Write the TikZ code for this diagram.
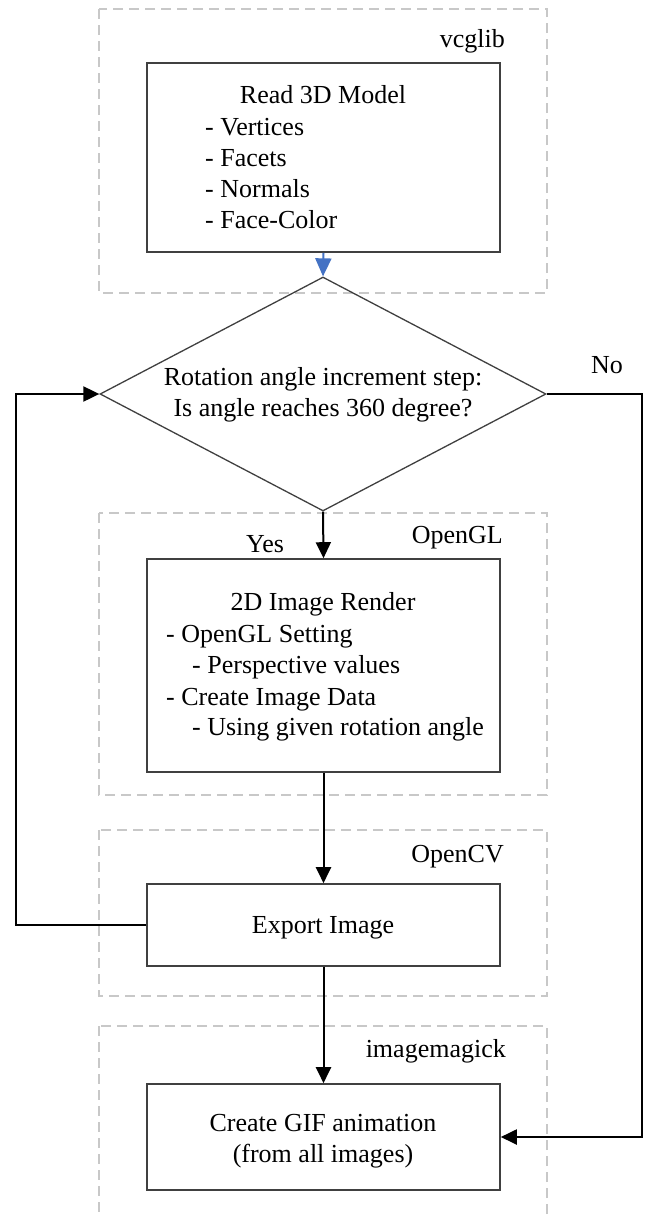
\documentclass[tikz,border=0pt]{standalone}
\usepackage{fontspec}
\setmainfont{Liberation Serif}
\usetikzlibrary{arrows.meta,shapes.geometric}
\definecolor{grpgray}{RGB}{200,200,200}
\definecolor{boxgray}{RGB}{64,64,64}
\definecolor{arrblue}{RGB}{68,114,196}
\begin{document}
\begin{tikzpicture}[x=1pt,y=-1pt,
  grp/.style={draw=grpgray, line width=1.3pt, dash pattern=on 10pt off 6pt},
  proc/.style={draw=boxgray, line width=1.6pt, fill=white, minimum width=353pt, inner sep=0pt},
  dec/.style={draw=boxgray, line width=1.3pt, diamond, minimum width=446pt, minimum height=234pt, inner sep=0pt},
  flow/.style={draw=black, line width=2pt, -{Triangle[length=16pt,width=15pt]}},
  bflow/.style={draw=arrblue, line width=2pt, -{Triangle[length=18pt,width=16pt]}},
  txt/.style={font=\fontsize{26}{31}\selectfont, inner sep=0pt, anchor=base},
  ltxt/.style={txt, anchor=base west},
  rtxt/.style={txt, anchor=base east}]
\useasboundingbox (0,0) rectangle (646,1218);
\clip (0,0) rectangle (646,1218);
\fill[white] (0,0) rectangle (646,1218);

% group frames
\draw[grp] (99,9) rectangle (547,293);
\draw[grp] (99,513) rectangle (547,795);
\draw[grp] (99,830) rectangle (547,996);
\draw[grp] (99,1026) rectangle (547,1240);

\node[rtxt] (lvcg) at (505,47) {vcglib};
\node[rtxt] (lgl) at (503,543) {OpenGL};
\node[rtxt] (lcv) at (504,862) {OpenCV};
\node[rtxt] (lim) at (506,1057) {imagemagick};

% process boxes
\node[proc, minimum height=189pt] (b1) at (323.5,157.5) {};
\node[proc, minimum height=213pt] (b2) at (323.5,665.5) {};
\node[proc, minimum height=82pt] (b3) at (323.5,925) {};
\node[proc, minimum height=106pt] (b4) at (323.5,1137) {};
\node[dec] (d) at (323,394) {};

% box texts
\node[txt] (t1) at (323,103) {Read 3D Model};
\node[ltxt] (t1a) at (205,135) {- Vertices};
\node[ltxt] (t1b) at (205,166) {- Facets};
\node[ltxt] (t1c) at (205,197) {- Normals};
\node[ltxt] (t1d) at (205,228) {- Face-Color};

\node[txt] (td1) at (323,385) {Rotation angle increment step:};
\node[txt] (td2) at (323,416) {Is angle reaches 360 degree?};

\node[txt] (t2) at (323,610) {2D Image Render};
\node[ltxt] (t2a) at (166,642) {- OpenGL Setting};
\node[ltxt] (t2b) at (192,673) {- Perspective values};
\node[ltxt] (t2c) at (166,705) {- Create Image Data};
\node[ltxt] (t2d) at (192,735) {- Using given rotation angle};

\node[txt] (t3) at (323,933) {Export Image};
\node[txt] (t4a) at (323,1131) {Create GIF animation};
\node[txt] (t4b) at (323,1162) {(from all images)};

\node[txt] (lno) at (607,373) {No};
\node[txt] (lyes) at (265,552) {Yes};

% connectors
\coordinate (lx) at (16,0);
\coordinate (rx) at (642,0);
\draw[bflow] (b1.south) -- (d.north);
\draw[flow] (d.south) -- (b2.north);
\draw[flow] (b2.south) -- (b3.north);
\draw[flow] (b3.south) -- (b4.north);
\draw[flow] (b3.west) -- (b3.west -| lx) |- (d.west);
\draw[flow] (d.east) -- (d.east -| rx) |- (b4.east);
\end{tikzpicture}
\end{document}
